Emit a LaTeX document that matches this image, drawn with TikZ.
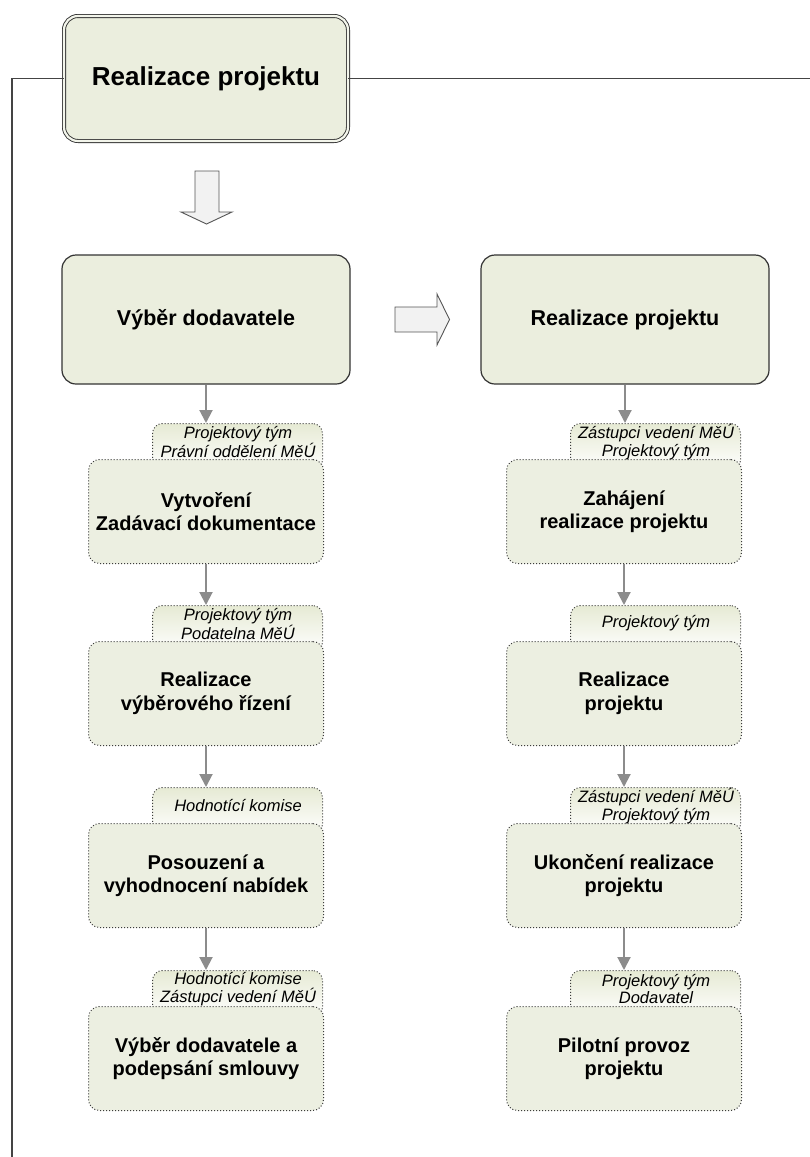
\documentclass[tikz,border=0pt]{standalone}
\usepackage{fontspec}
\setmainfont{Liberation Sans}
\usetikzlibrary{arrows.meta}
\definecolor{boxfill}{HTML}{EBEEDE}
\definecolor{subfill}{HTML}{ECEFE1}
\definecolor{tabtop}{HTML}{E6EAD4}
\definecolor{boxline}{HTML}{333333}
\definecolor{dotline}{HTML}{3C3C3C}
\definecolor{flowgray}{HTML}{8C8C8C}
\definecolor{blockfill}{HTML}{F2F2F2}
\definecolor{blockline}{HTML}{555555}
\definecolor{frameline}{HTML}{444444}
\begin{document}
\begin{tikzpicture}[x=1pt,y=-1pt,
  titlebox/.style={draw=boxline, line width=0.9pt, double=boxfill!60!white, double distance=2.2pt,
    fill=boxfill, rounded corners=14pt, minimum width=284pt, minimum height=125pt,
    inner sep=0pt, align=center, font=\fontsize{26}{30}\selectfont\bfseries},
  bigbox/.style={draw=boxline, line width=1.2pt, fill=boxfill, rounded corners=14pt,
    minimum width=288pt, minimum height=129pt, inner sep=0pt, align=center,
    font=\fontsize{21.5}{26}\selectfont\bfseries},
  subbox/.style={draw=dotline, line width=1pt, dash pattern=on 1pt off 2pt, fill=subfill,
    rounded corners=11pt, minimum width=235pt, minimum height=104pt, inner sep=0pt,
    align=center, font=\fontsize{20}{23.5}\selectfont\bfseries, anchor=north west},
  tabbox/.style={draw=dotline, line width=1pt, dash pattern=on 1pt off 2pt,
    top color=tabtop, bottom color=white, rounded corners=10pt,
    minimum width=170pt, minimum height=47pt, inner sep=0pt, anchor=north east},
  tabtext/.style={inner sep=0pt, align=center, font=\fontsize{16.5}{17.5}\selectfont\itshape},
  flow/.style={draw=flowgray, line width=2pt, -{Triangle[length=13pt,width=13pt]}},
  blockarrow/.style={draw=blockline, line width=0.9pt, fill=blockfill, line join=miter},
  frame/.style={draw=frameline, line width=1.5pt}
]
\useasboundingbox (0,0) rectangle (810,1157);

% heading and the outline running from it
\node[titlebox] (title) at (206,78.5) {Realizace projektu};
\draw[frame] (title.west) -| (12,1157);
\draw[frame] (title.east) -- ++(462,0);

% hollow block arrows
\draw[blockarrow] (195,171) -- (219,171) -- (219,212) -- (232,212) -- (206.5,224)
  -- (181,212) -- (195,212) -- cycle;
\draw[blockarrow] (395,307) -- (437,307) -- (437,294) -- (449.5,319.5) -- (437,345)
  -- (437,332) -- (395,332) -- cycle;

% phase boxes
\node[bigbox] (phaseA) at (206,319.5) {Výběr dodavatele};
\node[bigbox] (phaseB) at (625,319.5) {Realizace projektu};

% left column: tabs, then steps, then tab labels
\node[tabbox] (lt1) at (323,423) {};
\node[tabbox] (lt2) at (323,605) {};
\node[tabbox] (lt3) at (323,787) {};
\node[tabbox] (lt4) at (323,970) {};
\node[subbox] (lb1) at (88,459) {Vytvoření\\Zadávací dokumentace};
\node[subbox] (lb2) at (88,641) {Realizace\\výběrového řízení};
\node[subbox] (lb3) at (88,823) {Posouzení a\\vyhodnocení nabídek};
\node[subbox] (lb4) at (88,1006) {Výběr dodavatele a\\podepsání smlouvy};
\node[tabtext] (lt1t) at (238,442) {Projektový tým\\Právní oddělení MěÚ};
\node[tabtext] (lt2t) at (238,624) {Projektový tým\\Podatelna MěÚ};
\node[tabtext] (lt3t) at (238,805) {Hodnotící komise};
\node[tabtext] (lt4t) at (238,989) {Hodnotící komise\\Zástupci vedení MěÚ};

% right column
\node[tabbox] (rt1) at (741,423) {};
\node[tabbox] (rt2) at (741,605) {};
\node[tabbox] (rt3) at (741,787) {};
\node[tabbox] (rt4) at (741,970) {};
\node[subbox] (rb1) at (506,459) {Zahájení\\realizace projektu};
\node[subbox] (rb2) at (506,641) {Realizace\\projektu};
\node[subbox] (rb3) at (506,823) {Ukončení realizace\\projektu};
\node[subbox] (rb4) at (506,1006) {Pilotní provoz\\projektu};
\node[tabtext] (rt1t) at (656,442) {Zástupci vedení MěÚ\\Projektový tým};
\node[tabtext] (rt2t) at (656,623) {Projektový tým};
\node[tabtext] (rt3t) at (656,806) {Zástupci vedení MěÚ\\Projektový tým};
\node[tabtext] (rt4t) at (656,989) {Projektový tým\\Dodavatel};

% flow between steps
\draw[flow] (phaseA.south) -- (phaseA.south |- lt1.north);
\draw[flow] (lb1.south) -- (lb1.south |- lt2.north);
\draw[flow] (lb2.south) -- (lb2.south |- lt3.north);
\draw[flow] (lb3.south) -- (lb3.south |- lt4.north);
\draw[flow] (phaseB.south) -- (phaseB.south |- rt1.north);
\draw[flow] (rb1.south) -- (rb1.south |- rt2.north);
\draw[flow] (rb2.south) -- (rb2.south |- rt3.north);
\draw[flow] (rb3.south) -- (rb3.south |- rt4.north);
\end{tikzpicture}
\end{document}
